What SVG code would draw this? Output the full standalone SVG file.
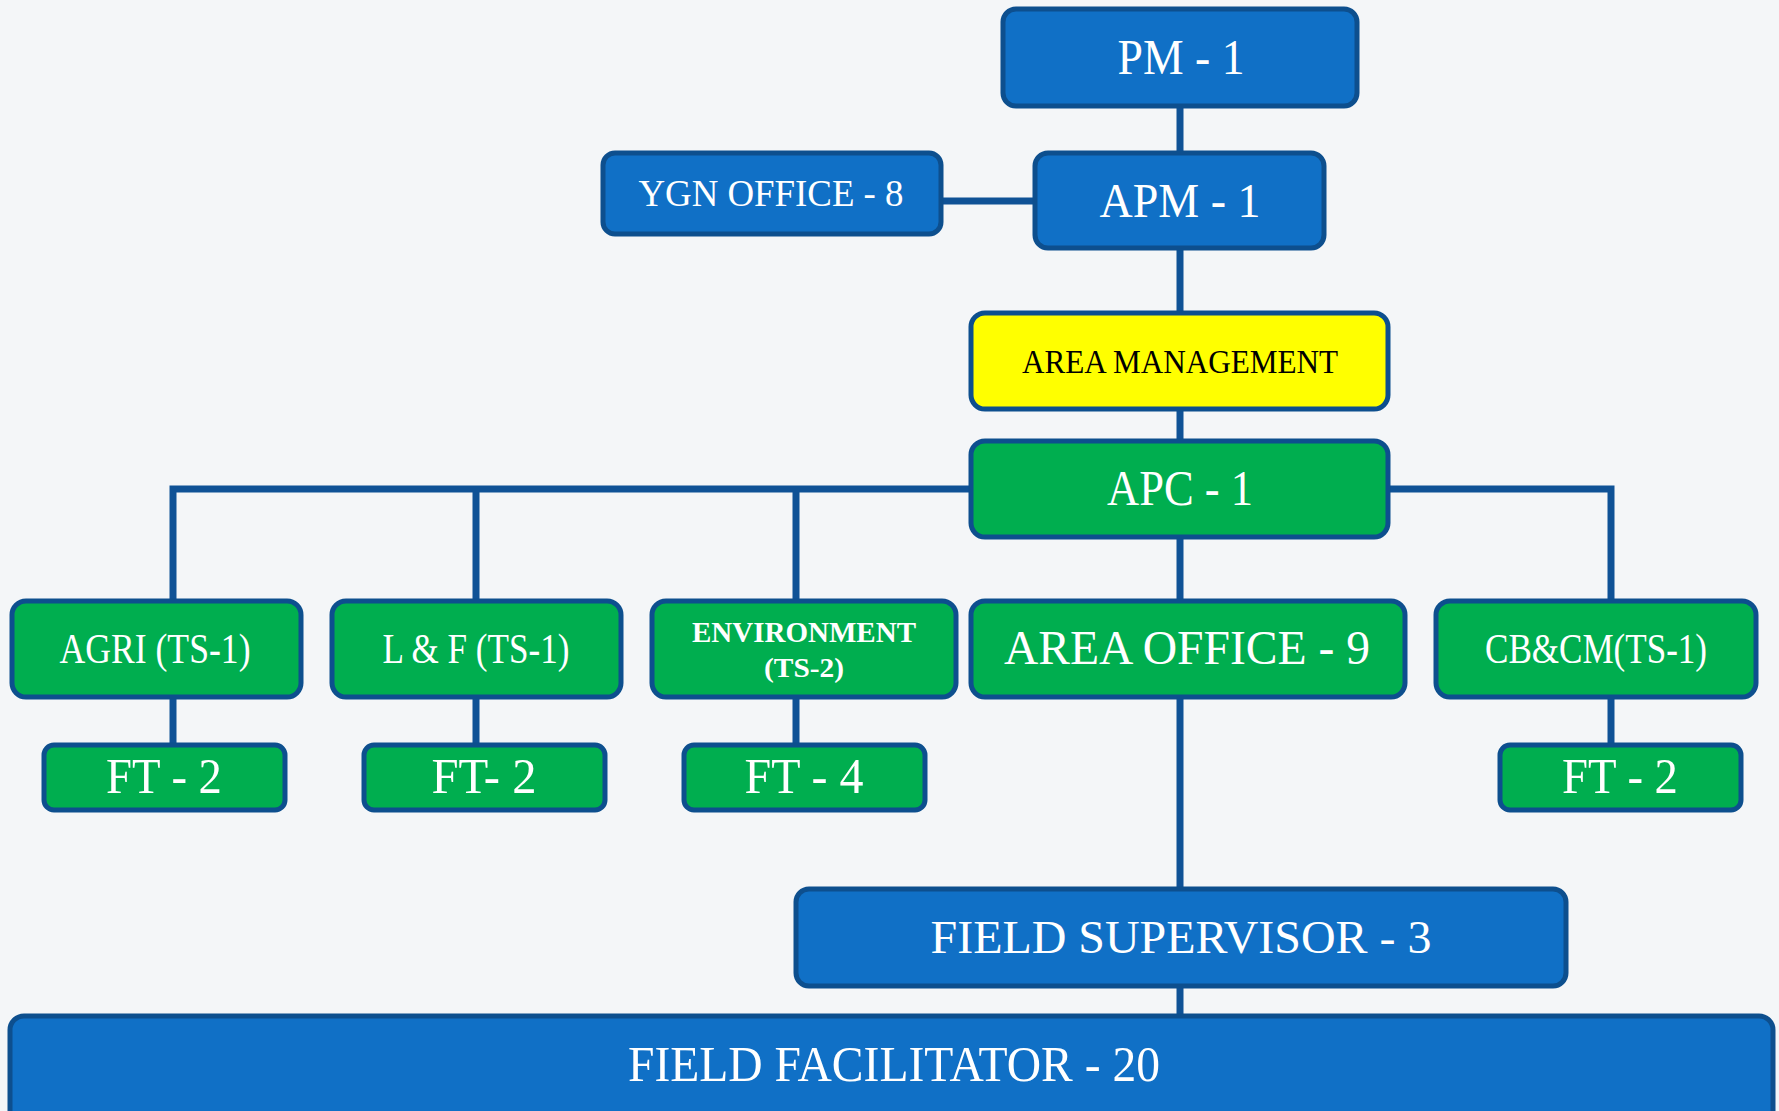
<svg xmlns="http://www.w3.org/2000/svg" width="1779" height="1111" viewBox="0 0 1779 1111">
<style>
.blue{fill:#1070C6;stroke:#0D4F8E;stroke-width:5}
.green{fill:#00AE4F;stroke:#0D4F8E;stroke-width:5}
.yellow{fill:#FFFF00;stroke:#0D4F8E;stroke-width:5}
.t{font-family:"Liberation Serif","DejaVu Serif",serif;fill:#FFFFFF;text-anchor:middle}
.k{fill:#000000}
.b{font-weight:bold}
.c{fill:none;stroke:#0F5296;stroke-width:7}
</style>
<rect width="1779" height="1111" fill="#F4F6F8"/>
<g id="connectors">
<line class="c" x1="1180" y1="104" x2="1180" y2="154"/>
<line class="c" x1="939" y1="201" x2="1037" y2="201"/>
<line class="c" x1="1180" y1="246" x2="1180" y2="314"/>
<line class="c" x1="1180" y1="408" x2="1180" y2="442"/>
<path class="c" d="M972 489 H173 V602"/>
<line class="c" x1="476" y1="489" x2="476" y2="602"/>
<line class="c" x1="796" y1="489" x2="796" y2="602"/>
<path class="c" d="M1388 489 H1611 V602"/>
<line class="c" x1="1180" y1="536" x2="1180" y2="602"/>
<line class="c" x1="173" y1="697" x2="173" y2="745"/>
<line class="c" x1="476" y1="697" x2="476" y2="745"/>
<line class="c" x1="796" y1="697" x2="796" y2="745"/>
<line class="c" x1="1611" y1="697" x2="1611" y2="745"/>
<line class="c" x1="1180" y1="697" x2="1180" y2="890"/>
<line class="c" x1="1180" y1="985" x2="1180" y2="1017"/>
</g>
<g id="pm"><rect class="blue" x="1003" y="9" width="354" height="97" rx="13"/><text class="t" x="1181" y="74" font-size="50" textLength="127" lengthAdjust="spacingAndGlyphs">PM - 1</text></g>
<g id="ygn"><rect class="blue" x="603" y="153" width="338" height="81" rx="12"/><text class="t" x="771" y="206" font-size="38" textLength="265" lengthAdjust="spacingAndGlyphs">YGN OFFICE - 8</text></g>
<g id="apm"><rect class="blue" x="1035" y="153" width="289" height="95" rx="13"/><text class="t" x="1180" y="217" font-size="48" textLength="161" lengthAdjust="spacingAndGlyphs">APM - 1</text></g>
<g id="area-management"><rect class="yellow" x="971" y="313" width="417" height="96" rx="14"/><text class="t k" x="1180" y="373" font-size="34" textLength="316" lengthAdjust="spacingAndGlyphs">AREA MANAGEMENT</text></g>
<g id="apc"><rect class="green" x="971" y="441" width="417" height="96" rx="14"/><text class="t" x="1180" y="505" font-size="50" textLength="146" lengthAdjust="spacingAndGlyphs">APC - 1</text></g>
<g id="agri"><rect class="green" x="12" y="601" width="289" height="96" rx="14"/><text class="t" x="155" y="663" font-size="42" textLength="191" lengthAdjust="spacingAndGlyphs">AGRI (TS-1)</text></g>
<g id="lf"><rect class="green" x="332" y="601" width="289" height="96" rx="14"/><text class="t" x="476" y="663" font-size="42" textLength="187" lengthAdjust="spacingAndGlyphs">L &amp; F (TS-1)</text></g>
<g id="environment"><rect class="green" x="652" y="601" width="304" height="96" rx="14"/><text class="t b" x="804" y="642" font-size="30" textLength="224" lengthAdjust="spacingAndGlyphs">ENVIRONMENT</text><text class="t b" x="804" y="677" font-size="28" textLength="80" lengthAdjust="spacingAndGlyphs">(TS-2)</text></g>
<g id="area-office"><rect class="green" x="971" y="601" width="434" height="96" rx="14"/><text class="t" x="1187" y="664" font-size="48" textLength="366" lengthAdjust="spacingAndGlyphs">AREA OFFICE - 9</text></g>
<g id="cbcm"><rect class="green" x="1436" y="601" width="320" height="96" rx="14"/><text class="t" x="1596" y="663" font-size="42" textLength="222" lengthAdjust="spacingAndGlyphs">CB&amp;CM(TS-1)</text></g>
<g id="ft-agri"><rect class="green" x="44" y="745" width="241" height="65" rx="10"/><text class="t" x="164" y="793" font-size="50" textLength="116" lengthAdjust="spacingAndGlyphs">FT - 2</text></g>
<g id="ft-lf"><rect class="green" x="364" y="745" width="241" height="65" rx="10"/><text class="t" x="484" y="793" font-size="50" textLength="105" lengthAdjust="spacingAndGlyphs">FT- 2</text></g>
<g id="ft-env"><rect class="green" x="684" y="745" width="241" height="65" rx="10"/><text class="t" x="804" y="793" font-size="50" textLength="119" lengthAdjust="spacingAndGlyphs">FT - 4</text></g>
<g id="ft-cbcm"><rect class="green" x="1500" y="745" width="241" height="65" rx="10"/><text class="t" x="1620" y="793" font-size="50" textLength="116" lengthAdjust="spacingAndGlyphs">FT - 2</text></g>
<g id="field-supervisor"><rect class="blue" x="796" y="889" width="770" height="97" rx="13"/><text class="t" x="1181" y="953" font-size="47" textLength="501" lengthAdjust="spacingAndGlyphs">FIELD SUPERVISOR - 3</text></g>
<g id="field-facilitator"><rect class="blue" x="10" y="1016" width="1763" height="115" rx="14"/><text class="t" x="894" y="1081" font-size="50" textLength="532" lengthAdjust="spacingAndGlyphs">FIELD FACILITATOR - 20</text></g>
</svg>
